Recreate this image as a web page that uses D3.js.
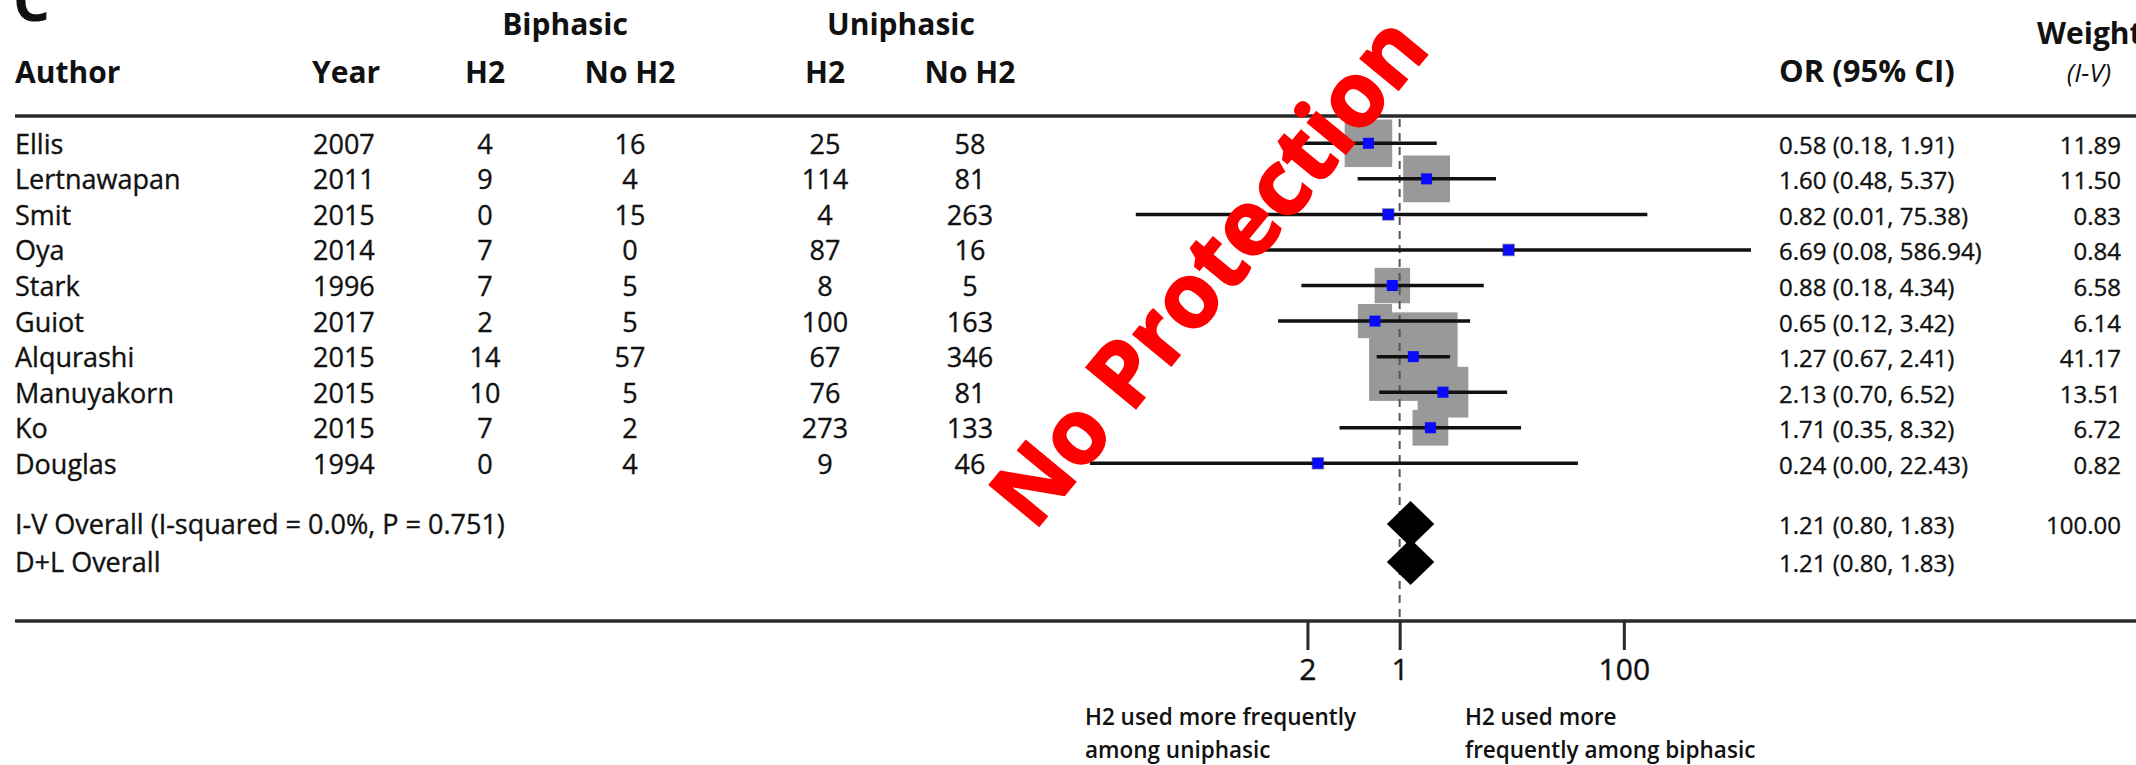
<!DOCTYPE html>
<html>
<head>
<meta charset="utf-8">
<script src="https://cdn.jsdelivr.net/npm/d3@7"></script>
<style>
  html, body { margin: 0; padding: 0; background: #fff; }
  svg { display: block; }
  text { font-family: "Open Sans", "Noto Sans", sans-serif; fill: #111; }
</style>
</head>
<body>
<svg id="chart" width="2136" height="765"></svg>
<script>
// ---------------- data ----------------
const authors   = ["Ellis","Lertnawapan","Smit","Oya","Stark","Guiot","Alqurashi","Manuyakorn","Ko","Douglas"];
const years     = [2007, 2011, 2015, 2014, 1996, 2017, 2015, 2015, 2015, 1994];
const biH2      = [4, 9, 0, 7, 7, 2, 14, 10, 7, 0];
const biNoH2    = [16, 4, 15, 0, 5, 5, 57, 5, 2, 4];
const uniH2     = [25, 114, 4, 87, 8, 100, 67, 76, 273, 9];
const uniNoH2   = [58, 81, 263, 16, 5, 163, 346, 81, 133, 46];
const orValues  = [0.58, 1.60, 0.82, 6.69, 0.88, 0.65, 1.27, 2.13, 1.71, 0.24];
const ciLow     = [0.18, 0.48, 0.01, 0.08, 0.18, 0.12, 0.67, 0.70, 0.35, 0.00];
const ciHigh    = [1.91, 5.37, 75.38, 586.94, 4.34, 3.42, 2.41, 6.52, 8.32, 22.43];
const weights   = [11.89, 11.50, 0.83, 0.84, 6.58, 6.14, 41.17, 13.51, 6.72, 0.82];

const overallLabels = ["I-V Overall (I-squared = 0.0%, P = 0.751)", "D+L Overall"];
const overallOR     = [1.21, 1.21];
const overallLow    = [0.80, 0.80];
const overallHigh   = [1.83, 1.83];
const overallWeight = ["100.00", ""];

const tickValues = [0.2, 1, 50];
const tickLabels = ["2", "1", "100"];
const nullValue  = 1;

// ---------------- layout ----------------
const svg = d3.select("#chart");
svg.append("rect").attr("width", 2136).attr("height", 765).attr("fill", "#fff");

const x = d3.scaleLog().domain([0.0045, 460]).range([1090, 1751]).clamp(true);
const y = d3.scalePoint().domain(d3.range(authors.length)).range([143.3, 463.3]);
const yo = d3.scalePoint().domain(d3.range(overallLabels.length)).range([524, 562]);
const boxSide = w => 13.8 * Math.sqrt(w);
const fmt2 = d3.format(".2f");
const ciText = i => `${fmt2(orValues[i])} (${fmt2(ciLow[i])}, ${fmt2(ciHigh[i])})`;

const ruleColor = "#2a2a2a";

// panel letter
svg.append("text").attr("x", 13).attr("y", 21)
  .attr("font-size", 58).attr("font-weight", 700).text("C");

// group headers
const hdr = svg.append("g").attr("font-weight", 700).attr("font-size", 30);
hdr.append("text").attr("x", 565).attr("y", 35).attr("text-anchor", "middle").text("Biphasic");
hdr.append("text").attr("x", 901).attr("y", 35).attr("text-anchor", "middle").text("Uniphasic");
hdr.append("text").attr("x", 15).attr("y", 83).text("Author");
hdr.append("text").attr("x", 312).attr("y", 83).text("Year");
hdr.append("text").attr("x", 485).attr("y", 83).attr("text-anchor", "middle").text("H2");
hdr.append("text").attr("x", 630).attr("y", 83).attr("text-anchor", "middle").text("No H2");
hdr.append("text").attr("x", 825).attr("y", 83).attr("text-anchor", "middle").text("H2");
hdr.append("text").attr("x", 970).attr("y", 83).attr("text-anchor", "middle").text("No H2");
hdr.append("text").attr("x", 1779).attr("y", 82).attr("font-size", 31).text("OR (95% CI)");
hdr.append("text").attr("x", 2037).attr("y", 44).text("Weight");
svg.append("text").attr("x", 2089).attr("y", 82).attr("text-anchor", "middle")
  .attr("font-size", 26).attr("font-style", "italic").text("(I-V)");

// rules
svg.append("line").attr("x1", 15).attr("x2", 2136).attr("y1", 116).attr("y2", 116)
  .attr("stroke", ruleColor).attr("stroke-width", 3.5);
svg.append("line").attr("x1", 15).attr("x2", 2136).attr("y1", 621).attr("y2", 621)
  .attr("stroke", ruleColor).attr("stroke-width", 3.5);

// gray weight boxes (drawn first)
svg.append("g").selectAll("rect").data(d3.range(authors.length)).join("rect")
  .attr("x", i => x(orValues[i]) - boxSide(weights[i]) / 2)
  .attr("y", i => y(i) - boxSide(weights[i]) / 2)
  .attr("width", i => boxSide(weights[i]))
  .attr("height", i => boxSide(weights[i]))
  .attr("fill", "#999999");

// null line
svg.append("line").attr("x1", x(nullValue)).attr("x2", x(nullValue))
  .attr("y1", 119).attr("y2", 620)
  .attr("stroke", "#555").attr("stroke-width", 2).attr("stroke-dasharray", "8,6");

// CI lines
svg.append("g").selectAll("line").data(d3.range(authors.length)).join("line")
  .attr("x1", i => x(Math.max(ciLow[i], x.domain()[0])))
  .attr("x2", i => x(ciHigh[i]))
  .attr("y1", i => y(i)).attr("y2", i => y(i))
  .attr("stroke", "#111").attr("stroke-width", 3.5);

// point estimates
svg.append("g").selectAll("rect").data(d3.range(authors.length)).join("rect")
  .attr("x", i => x(orValues[i]) - 5.5)
  .attr("y", i => y(i) - 5.5)
  .attr("width", 11).attr("height", 11)
  .attr("fill", "#0a0aff");

// diamonds
svg.append("g").selectAll("path").data(d3.range(overallLabels.length)).join("path")
  .attr("d", i => {
    const cy = yo(i), h = 23;
    return `M${x(overallLow[i])},${cy} L${x(overallOR[i])},${cy - h} L${x(overallHigh[i])},${cy} L${x(overallOR[i])},${cy + h} Z`;
  })
  .attr("fill", "#000");

// table text
const rows = svg.append("g").attr("font-size", 27)
  .style("stroke", "#111").style("stroke-width", 0.35);
const idx = d3.range(authors.length);
const col = (xPos, anchor, fn) => rows.append("g").selectAll("text").data(idx).join("text")
  .attr("x", xPos).attr("y", i => y(i) + 10.5).attr("text-anchor", anchor).text(fn);
col(15, "start", i => authors[i]);
col(313, "start", i => years[i]);
col(485, "middle", i => biH2[i]);
col(630, "middle", i => biNoH2[i]);
col(825, "middle", i => uniH2[i]);
col(970, "middle", i => uniNoH2[i]);
col(1779, "start", i => ciText(i)).attr("font-size", 24);
col(2121, "end", i => fmt2(weights[i])).attr("font-size", 24);

// overall text
const oidx = d3.range(overallLabels.length);
rows.append("g").selectAll("text").data(oidx).join("text")
  .attr("x", 15).attr("y", i => yo(i) + 9.5).text(i => overallLabels[i]);
rows.append("g").selectAll("text").data(oidx).join("text")
  .attr("x", 1779).attr("y", i => yo(i) + 9.5).attr("font-size", 24)
  .text(i => `${fmt2(overallOR[i])} (${fmt2(overallLow[i])}, ${fmt2(overallHigh[i])})`);
rows.append("g").selectAll("text").data(oidx).join("text")
  .attr("x", 2121).attr("y", i => yo(i) + 9.5).attr("font-size", 24).attr("text-anchor", "end")
  .text(i => overallWeight[i]);

// axis
const axis = d3.axisBottom(x).tickValues(tickValues)
  .tickFormat((d, i) => tickLabels[i]).tickSize(29).tickPadding(9);
const ag = svg.append("g").attr("transform", "translate(0,621)").call(axis);
ag.select(".domain").remove();
ag.selectAll(".tick line").attr("stroke", ruleColor).attr("stroke-width", 3);
ag.selectAll(".tick text").attr("font-size", 30).attr("font-family", "Open Sans, sans-serif")
  .attr("fill", "#111").style("stroke", "#111").style("stroke-width", 0.4);

// direction notes
const notes = svg.append("g").attr("font-size", 22.5).attr("font-weight", 600);
notes.append("text").attr("x", 1085).attr("y", 725).text("H2 used more frequently");
notes.append("text").attr("x", 1085).attr("y", 758).text("among uniphasic");
notes.append("text").attr("x", 1465).attr("y", 725).text("H2 used more");
notes.append("text").attr("x", 1465).attr("y", 758).text("frequently among biphasic");

// watermark
svg.append("text")
  .attr("transform", "translate(1034,532) rotate(-50.5)")
  .attr("font-size", 90).attr("font-weight", 700)
  .style("fill", "#ff0000").style("stroke", "#ff0000").style("stroke-width", 2)
  .text("No Protection");
</script>
</body>
</html>
